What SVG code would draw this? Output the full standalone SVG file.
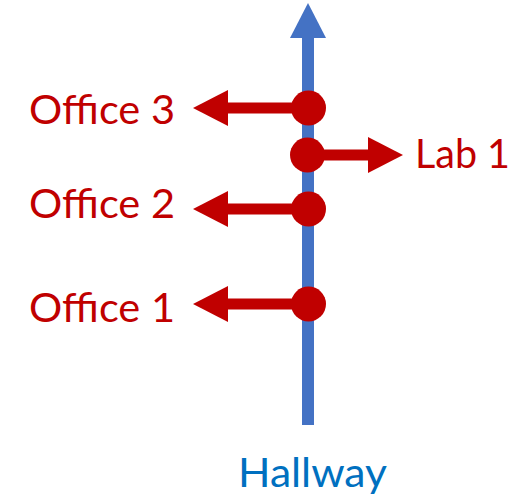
<svg xmlns="http://www.w3.org/2000/svg" width="520" height="495" viewBox="0 0 520 495">
<style>
.lbl{font-family:Lato,"Open Sans","Liberation Sans",sans-serif;font-size:41px;fill:#C00000}
.hall{font-family:Lato,"Open Sans","Liberation Sans",sans-serif;font-size:41px;fill:#0070C0}
.door{stroke:#C00000;stroke-width:11;fill:none}
.head{fill:#C00000}
.dot{fill:#C00000}
</style>
<rect width="520" height="495" fill="#fff"/>
<g id="connectors">
<g id="hallway-line">
<line x1="308" y1="425" x2="308" y2="36" stroke="#4472C4" stroke-width="12"/>
<polygon points="308,3 326,38 290,38" fill="#4472C4"/>
</g>
<g id="to-office3">
<line class="door" x1="308" y1="108" x2="226" y2="108"/>
<polygon class="head" points="193,108 228,90 228,126"/>
</g>
<g id="to-lab1">
<line class="door" x1="308" y1="155" x2="370" y2="155"/>
<polygon class="head" points="403,155 368,137 368,173"/>
</g>
<g id="to-office2">
<line class="door" x1="308" y1="209" x2="226" y2="209"/>
<polygon class="head" points="193,209 228,191 228,227"/>
</g>
<g id="to-office1">
<line class="door" x1="308" y1="304" x2="226" y2="304"/>
<polygon class="head" points="193,304 228,286 228,322"/>
</g>
</g>
<g id="node-office3"><circle class="dot" cx="308.5" cy="108" r="17.5"/></g>
<g id="node-lab1-junction"><circle class="dot" cx="307.5" cy="155" r="17.5"/></g>
<g id="node-office2"><circle class="dot" cx="308.5" cy="209" r="17.5"/></g>
<g id="node-office1"><circle class="dot" cx="308.5" cy="304" r="17.5"/></g>
<g id="label-office3"><text class="lbl" x="29" y="124" textLength="146" lengthAdjust="spacingAndGlyphs">Office 3</text></g>
<g id="label-office2"><text class="lbl" x="29" y="218" textLength="146" lengthAdjust="spacingAndGlyphs">Office 2</text></g>
<g id="label-office1"><text class="lbl" x="29" y="322" textLength="146" lengthAdjust="spacingAndGlyphs">Office 1</text></g>
<g id="label-lab1"><text class="lbl" x="415" y="168" textLength="95" lengthAdjust="spacingAndGlyphs">Lab 1</text></g>
<g id="label-hallway"><text class="hall" x="238" y="487" textLength="149" lengthAdjust="spacingAndGlyphs">Hallway</text></g>
</svg>
